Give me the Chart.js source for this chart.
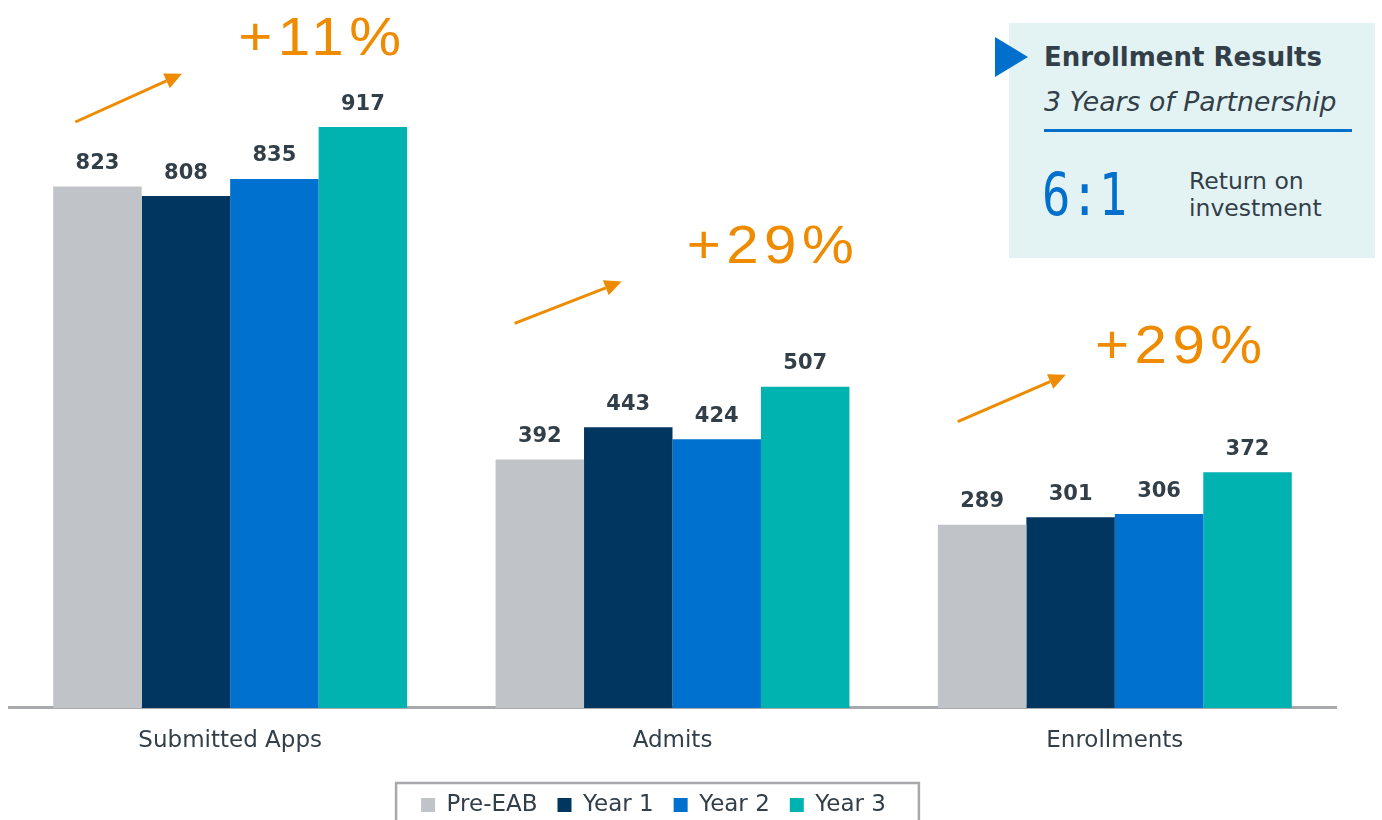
<!DOCTYPE html>
<html>
<head>
<meta charset="utf-8">
<script src="https://cdn.jsdelivr.net/npm/chart.js@4.4.1/dist/chart.umd.min.js"></script>
<style>
  html, body { margin: 0; padding: 0; background: #ffffff; }
  #wrap { position: relative; width: 1382px; height: 820px; overflow: hidden; }
  canvas { display: block; }
  #tri { position: absolute; left: 995px; top: 37px; width: 0; height: 0;
         border-top: 20px solid transparent; border-bottom: 20px solid transparent;
         border-left: 33px solid #0070cc; }
  #info { position: absolute; left: 1009px; top: 23px; width: 366px; height: 235px;
          background: #e3f3f4; font-family: 'DejaVu Sans', Verdana, sans-serif; color: #333f48; }
  #info div { position: absolute; white-space: nowrap; }
  #title { left: 35px; top: 21px; font-size: 26px; line-height: 26px; font-weight: bold; }
  #sub { left: 35px; top: 66px; font-size: 26.7px; line-height: 26px; font-style: italic; }
  #rule { left: 35px; top: 106px; width: 308px; height: 3px; background: #0070cc; }
  #ratio { left: 33px; top: 142px; font-size: 59px; line-height: 59px; color: #0070cc;
           font-family: 'DejaVu Sans Mono', monospace; transform: scaleX(0.8); transform-origin: 0 0; }
  #roi { left: 180px; top: 145px; font-size: 23.5px; line-height: 27px; }
</style>
</head>
<body>
<div id="wrap">
  <canvas id="c" width="1382" height="820"></canvas>
  <div id="info">
    <div id="title">Enrollment Results</div>
    <div id="sub">3 Years of Partnership</div>
    <div id="rule"></div>
    <div id="ratio">6:1</div>
    <div id="roi">Return on<br>investment</div>
  </div>
  <div id="tri"></div>
</div>
<script>
// ---- data ----
const categories = ['Submitted Apps', 'Admits', 'Enrollments'];
const seriesNames = ['Pre-EAB', 'Year 1', 'Year 2', 'Year 3'];
const preEAB = [823, 392, 289];
const year1  = [808, 443, 301];
const year2  = [835, 424, 306];
const year3  = [917, 507, 372];
const growthLabels = ['+11%', '+29%', '+29%'];

// ---- styling ----
const seriesColors = ['#c0c3c8', '#003660', '#0071ce', '#00b2b0'];
const textColor = '#333f48';
const orange = '#ef8b00';
// annotation placement in axis units (category index, value)
const growthTextPos = [{x: 0.018, y: 1031}, {x: 1.032, y: 702}, {x: 1.955, y: 544}];
const arrowPos = [
  {x0: -0.350, y0: 925, x1: -0.109, y1: 1001},
  {x0: 0.643,  y0: 607, x1: 0.885,  y1: 673},
  {x0: 1.645,  y0: 452, x1: 1.889,  y1: 526}
];

Chart.defaults.font.family = "'DejaVu Sans', Verdana, sans-serif";
Chart.defaults.color = textColor;

const seriesData = [preEAB, year1, year2, year3];

const decor = {
  id: 'decor',
  afterLayout(chart) {
    const lg = chart.legend;
    if (lg) { lg.left -= 19; lg.right -= 19; }
  },
  afterDatasetsDraw(chart) {
    const ctx = chart.ctx;
    ctx.save();
    ctx.font = "bold 21px 'DejaVu Sans', Verdana, sans-serif";
    ctx.fillStyle = textColor;
    ctx.textAlign = 'center';
    ctx.textBaseline = 'middle';
    chart.data.datasets.forEach((ds, di) => {
      const meta = chart.getDatasetMeta(di);
      meta.data.forEach((bar, i) => {
        ctx.fillText(String(ds.data[i]), bar.x, bar.y - 23);
      });
    });
    ctx.restore();
  },
  afterDraw(chart) {
    const ctx = chart.ctx;
    const xs = chart.scales.x, ys = chart.scales.y;
    ctx.save();
    // growth labels (slightly stretched and spaced, like the original)
    ctx.font = "53px 'Liberation Sans', Arial, sans-serif";
    ctx.fillStyle = orange;
    ctx.textAlign = 'left';
    ctx.textBaseline = 'alphabetic';
    try { ctx.letterSpacing = '5px'; } catch (e) {}
    growthLabels.forEach((t, i) => {
      const p = growthTextPos[i];
      ctx.save();
      ctx.translate(xs.getPixelForValue(p.x), ys.getPixelForValue(p.y));
      ctx.scale(1.1, 1);
      ctx.fillText(t, 0, 0);
      ctx.restore();
    });
    try { ctx.letterSpacing = '0px'; } catch (e) {}
    // arrows
    ctx.strokeStyle = orange;
    ctx.fillStyle = orange;
    ctx.lineWidth = 3;
    arrowPos.forEach(a => {
      const x0 = xs.getPixelForValue(a.x0), y0 = ys.getPixelForValue(a.y0);
      const x1 = xs.getPixelForValue(a.x1), y1 = ys.getPixelForValue(a.y1);
      const ang = Math.atan2(y1 - y0, x1 - x0);
      const hl = 17, hw = 8;
      const bx = x1 - hl * Math.cos(ang), by = y1 - hl * Math.sin(ang);
      ctx.beginPath();
      ctx.moveTo(x0, y0);
      ctx.lineTo(bx, by);
      ctx.stroke();
      ctx.beginPath();
      ctx.moveTo(x1, y1);
      ctx.lineTo(bx + hw * Math.sin(ang), by - hw * Math.cos(ang));
      ctx.lineTo(bx - hw * Math.sin(ang), by + hw * Math.cos(ang));
      ctx.closePath();
      ctx.fill();
    });
    // legend frame
    const lg = chart.legend;
    if (lg && lg.lineWidths) {
      const pad = lg.options.labels.padding;
      const lw = lg.lineWidths[0];
      const itemsLeft = (lg.left + pad + lg.right - lw) / 2;
      const itemsRight = itemsLeft + lw - pad;
      const fs = lg.options.labels.font.size;
      const cy = lg.top + pad + fs / 2;
      ctx.strokeStyle = '#a7a9ac';
      ctx.lineWidth = 2.5;
      ctx.strokeRect(itemsLeft - 25, cy - 22, (itemsRight + 33) - (itemsLeft - 25), 80);
    }
    ctx.restore();
  }
};

new Chart(document.getElementById('c'), {
  type: 'bar',
  data: {
    labels: categories,
    datasets: seriesNames.map((name, i) => ({
      label: name,
      data: seriesData[i],
      backgroundColor: seriesColors[i],
      borderWidth: 0,
      categoryPercentage: 0.8,
      barPercentage: 1.0
    }))
  },
  options: {
    responsive: false,
    animation: false,
    layout: { padding: { top: 74.5, left: 9, right: 46, bottom: -6.5 } },
    plugins: {
      legend: {
        position: 'bottom',
        labels: {
          font: { size: 23 },
          color: textColor,
          boxWidth: 14,
          boxHeight: 14,
          padding: 20
        }
      },
      tooltip: { enabled: false }
    },
    scales: {
      x: {
        grid: { display: false, drawTicks: false },
        border: { display: true, color: '#a7a9ac', width: 3 },
        ticks: { font: { size: 23 }, color: textColor, padding: 19 }
      },
      y: { display: false, min: 0, max: 1000 }
    }
  },
  plugins: [decor]
});
</script>
</body>
</html>
